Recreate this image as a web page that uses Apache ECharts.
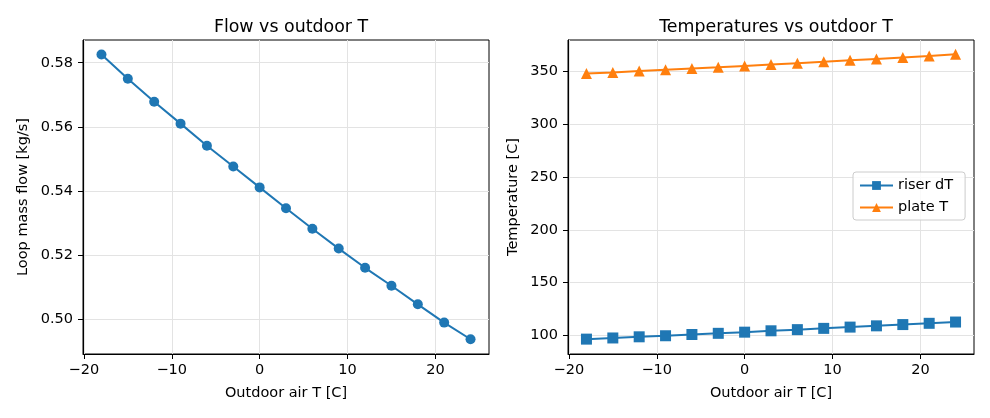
<!DOCTYPE html>
<html lang="en">
<head>
    <meta charset="UTF-8">
    <title>Flow and temperatures vs outdoor T</title>
    <script src="https://cdn.jsdelivr.net/npm/echarts@6/dist/echarts.min.js"></script>
</head>
<body style="margin:0">
<div id="main" style="width:990px;height:418px"></div>
<script type="text/javascript">
    // data
    var outdoorT = [-18, -15, -12, -9, -6, -3, 0, 3, 6, 9, 12, 15, 18, 21, 24];
    var massFlow = [0.5826, 0.5750, 0.5678, 0.5610, 0.5541, 0.5476, 0.5411, 0.5346,
        0.5282, 0.5220, 0.5160, 0.5104, 0.5046, 0.4989, 0.4937];
    var riserDT = [96.4, 97.5, 98.6, 99.6, 100.8, 101.9, 103.0, 104.3,
        105.4, 106.6, 107.8, 109.0, 110.2, 111.4, 112.6];
    var plateT = [348.3, 349.3, 350.5, 351.7, 352.9, 354.1, 355.4, 356.7,
        358.0, 359.3, 360.7, 362.1, 363.5, 364.9, 366.4];
    var xTicks = [-20, -10, 0, 10, 20];
    var flowTicks = [0.50, 0.52, 0.54, 0.56, 0.58];
    var tempTicks = [100, 150, 200, 250, 300, 350];

    var FONT = 'DejaVu Sans';
    var myChart = echarts.init(document.getElementById('main'));

    function pairs(xs, ys) {
        var out = [];
        for (var i = 0; i < xs.length; i++) out.push([xs[i], ys[i]]);
        return out;
    }
    function minus(v) {
        return String(v).replace('-', '\u2212');
    }

    function valueAxis(idx, min, max, ticks, fmt, name, gap, isX) {
        return {
            type: 'value',
            gridIndex: idx,
            min: min,
            max: max,
            name: name,
            nameLocation: 'middle',
            nameGap: gap,
            nameTextStyle: {fontFamily: FONT, fontSize: 14.5, color: '#000'},
            axisLine: {show: true, onZero: false, lineStyle: {color: '#000', width: 1}},
            axisTick: {show: true, length: 5, customValues: ticks, lineStyle: {color: '#000'}},
            axisLabel: {
                customValues: ticks,
                margin: isX ? 9 : 10,
                fontFamily: FONT, fontSize: 14.5, color: '#000',
                formatter: fmt
            },
            splitLine: {show: true, lineStyle: {color: '#e3e3e3', width: 1}}
        };
    }

    var option = {
        animation: false,
        backgroundColor: '#fff',
        title: [
            {text: 'Flow vs outdoor T', left: 286, top: 14, textAlign: 'center',
                textStyle: {fontFamily: FONT, fontSize: 17.4, fontWeight: 'normal', color: '#000'}},
            {text: 'Temperatures vs outdoor T', left: 771, top: 14, textAlign: 'center',
                textStyle: {fontFamily: FONT, fontSize: 17.4, fontWeight: 'normal', color: '#000'}}
        ],
        grid: [
            {left: 83, right: 501, top: 40, bottom: 64, show: true, borderColor: '#000', borderWidth: 1},
            {left: 568, right: 16, top: 40, bottom: 64, show: true, borderColor: '#000', borderWidth: 1}
        ],
        legend: {
            orient: 'vertical',
            left: 853,
            top: 172,
            padding: [6, 12, 5, 6],
            itemGap: 7,
            itemWidth: 33,
            itemHeight: 11,
            borderColor: '#cccccc',
            borderWidth: 1,
            borderRadius: 3,
            backgroundColor: 'rgba(255,255,255,0.8)',
            textStyle: {fontFamily: FONT, fontSize: 14.5, color: '#000'},
            data: ['riser dT', 'plate T']
        },
        xAxis: [
            valueAxis(0, -20.1, 26.1, xTicks, minus, 'Outdoor air T [C]', 32, true),
            valueAxis(1, -20.1, 26.1, xTicks, minus, 'Outdoor air T [C]', 32, true)
        ],
        yAxis: [
            valueAxis(0, 0.4891, 0.5871, flowTicks, function (v) { return v.toFixed(2); },
                'Loop mass flow [kg/s]', 52, false),
            valueAxis(1, 82.3, 380, tempTicks, function (v) { return String(v); },
                'Temperature [C]', 47, false)
        ],
        series: [
            {
                name: 'flow', type: 'line', xAxisIndex: 0, yAxisIndex: 0,
                data: pairs(outdoorT, massFlow),
                symbol: 'circle', symbolSize: 10,
                lineStyle: {color: '#1f77b4', width: 2},
                itemStyle: {color: '#1f77b4'}
            },
            {
                name: 'riser dT', type: 'line', xAxisIndex: 1, yAxisIndex: 1,
                data: pairs(outdoorT, riserDT),
                symbol: 'rect', symbolSize: 11,
                lineStyle: {color: '#1f77b4', width: 2},
                itemStyle: {color: '#1f77b4'}
            },
            {
                name: 'plate T', type: 'line', xAxisIndex: 1, yAxisIndex: 1,
                data: pairs(outdoorT, plateT),
                symbol: 'triangle', symbolSize: 11,
                lineStyle: {color: '#ff7f0e', width: 2},
                itemStyle: {color: '#ff7f0e'}
            }
        ]
    };

    myChart.setOption(option);
</script>
</body>
</html>
